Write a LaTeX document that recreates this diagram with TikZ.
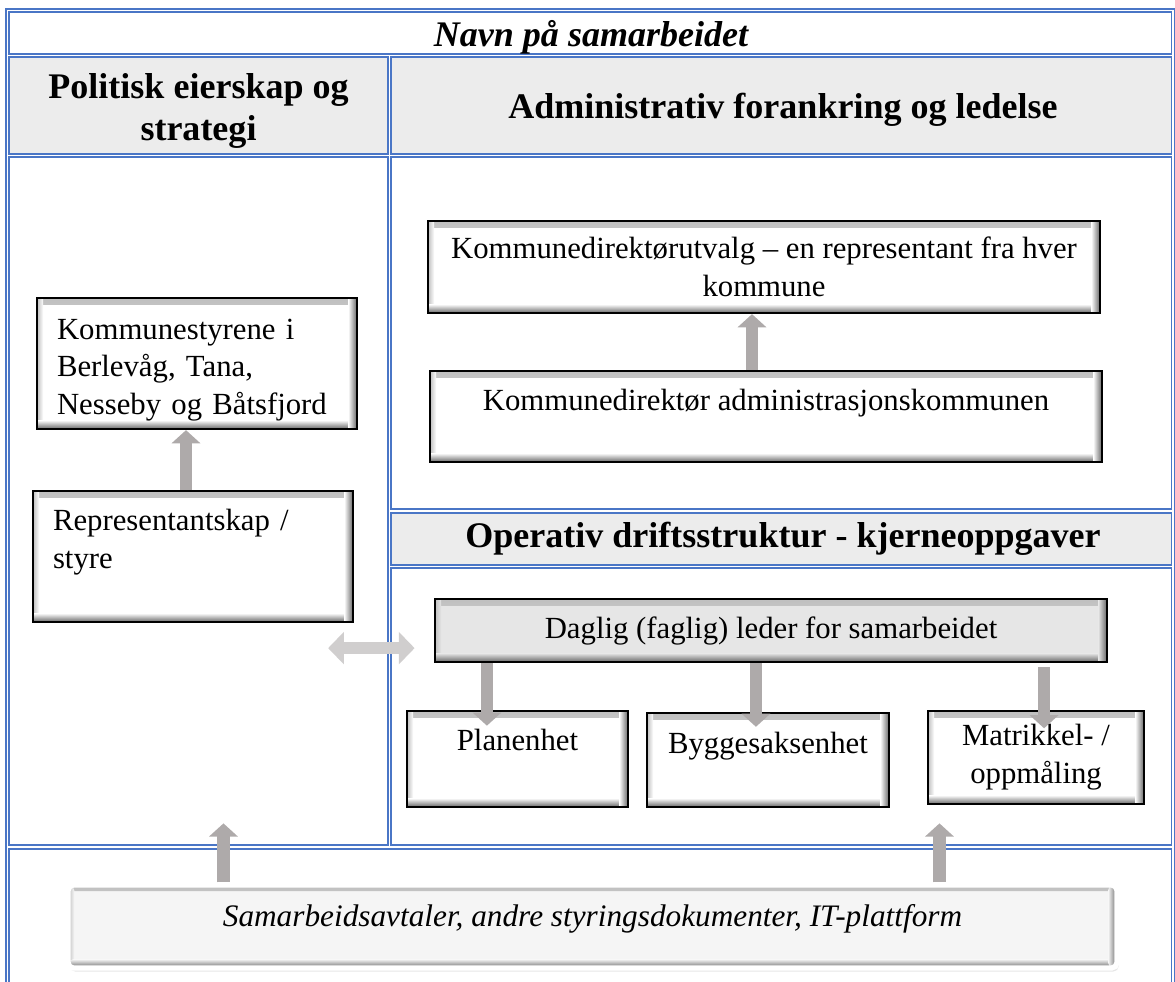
\documentclass[tikz,border=0pt]{standalone}
\usepackage{fontspec}
\setmainfont{Liberation Serif}
\usetikzlibrary{arrows.meta,calc,shadows}

\definecolor{cellblue}{HTML}{4A76C6}
\definecolor{hdrgray}{HTML}{ECECEC}
\definecolor{boxgray}{HTML}{E6E6E6}
\definecolor{arrowgray}{HTML}{AEAAAA}
\definecolor{lightarrow}{HTML}{D0CECE}

\tikzset{
  cell/.style={draw=cellblue, line width=0.8pt},
  title/.style={font=\fontsize{20.5}{24}\selectfont\bfseries\itshape},
  heading/.style={font=\fontsize{20.5}{24}\selectfont\bfseries, align=center},
  bevel/.style={path picture={
    \shade[top color=black!25, bottom color=#1]
      (path picture bounding box.north west) rectangle ([yshift=-3.5pt]path picture bounding box.north east);
    \shade[left color=black!25, right color=#1]
      (path picture bounding box.north west) rectangle ([xshift=3.5pt]path picture bounding box.south west);
    \shade[top color=#1, bottom color=black!60]
      ([yshift=5pt]path picture bounding box.south west) rectangle (path picture bounding box.south east);
    \shade[left color=#1, right color=black!60]
      ([xshift=-5pt]path picture bounding box.north east) rectangle (path picture bounding box.south east);
  }},
  orgbox/.style={draw=black, line width=1.3pt, fill=white, bevel=white,
    font=\fontsize{17.5}{21.5}\selectfont},
  lift/.style={text depth=#1},
  blockarrow/.style={arrowgray, line width=7pt, -{Triangle[width=16pt,length=7.5pt]}},
  dblarrow/.style={lightarrow, line width=6.5pt,
    {Triangle[width=18pt,length=9pt]}-{Triangle[width=18pt,length=9pt]}}
}

\begin{document}
\begin{tikzpicture}[x=0.02cm, y=-0.02cm]
	\useasboundingbox (0,0) rectangle (1175,982);
	\clip (0,0) rectangle (1175,982);
	
	% table
	\draw[cell] (6,9) rectangle (1174.5,1000);
	\draw[cell] (9,12) rectangle (1171.5,54);
	\draw[cell, fill=hdrgray] (9,57) rectangle (388,154);
	\draw[cell, fill=hdrgray] (391,57) rectangle (1171.5,154);
	\draw[cell] (9,157) rectangle (388,845);
	\draw[cell] (391,157) rectangle (1171.5,509);
	\draw[cell, fill=hdrgray] (391,513) rectangle (1171.5,565);
	\draw[cell] (391,568) rectangle (1171.5,845);
	\draw[cell] (9,849) rectangle (1171.5,1000);
	
	\node[title] (navn) at (591,37) {Navn på samarbeidet};
	\node[heading] (politisk) at (198.5,111) {Politisk eierskap og\\strategi};
	\node[heading] (admin) at (783,110) {Administrativ forankring og ledelse};
	\node[heading] (operativ) at (783,539) {Operativ driftsstruktur - kjerneoppgaver};
	
	% politisk side
	\node[orgbox, minimum width=6.4cm, minimum height=2.62cm, text width=5.6cm, align=left, lift=1.38cm] (komm) at (197,363.5) {Kommunestyrene i\\Berlevåg, Tana,\\Nesseby og Båtsfjord};
	\node[orgbox, minimum width=6.4cm, minimum height=2.62cm, text width=5.6cm, align=left, lift=1.45cm] (repr) at (193,556.5) {Representantskap /\\styre};
	\coordinate (r1) at ($(repr.north)+(-7,0)$);
	\draw[blockarrow] (r1) -- (r1 |- komm.south);
	
	% administrativ side
	\node[orgbox, minimum width=13.44cm, minimum height=1.84cm, align=center] (kdu) at (764,267) {Kommunedirektørutvalg – en representant fra hver\\kommune};
	\node[orgbox, minimum width=13.44cm, minimum height=1.82cm, lift=0.66cm] (kda) at (766,416.5) {Kommunedirektør administrasjonskommunen};
	\coordinate (k1) at ($(kda.north)+(-14,0)$);
	\draw[blockarrow] (k1) -- (k1 |- kdu.south);
	
	% operativ
	\node[orgbox, fill=boxgray, bevel=boxgray, minimum width=13.44cm, minimum height=1.26cm] (dagl) at (771,630.5) {Daglig (faglig) leder for samarbeidet};
	\node[orgbox, minimum width=4.42cm, minimum height=1.92cm, lift=0.78cm] (plan) at (517.5,759) {Planenhet};
	\node[orgbox, minimum width=4.84cm, minimum height=1.88cm, lift=0.7cm] (bygg) at (768,760) {Byggesaksenhet};
	\node[orgbox, minimum width=4.32cm, minimum height=1.86cm, align=center] (matr) at (1036,757.5) {Matrikkel- /\\oppmåling};
	\coordinate (d1) at ($(dagl.south west)+(53,0)$);
	\coordinate (d2) at ($(dagl.south west)+(322,0)$);
	\coordinate (d3) at ($(dagl.south east)+(-64,4)$);
	\draw[blockarrow] (d1) -- ([yshift=-9pt]d1 |- plan.north);
	\draw[blockarrow] (d2) -- ([yshift=-8.5pt]d2 |- bygg.north);
	\draw[blockarrow] (d3) -- ([yshift=-10.5pt]d3 |- matr.north);
	\coordinate (lr) at ($(repr.south east)+(-26,25)$);
	\draw[dblarrow] (lr) -- ([xshift=-11pt]dagl.west |- lr);
	
	% styringsdokumenter
	\node[orgbox, draw=white, line width=3pt, rounded corners=3pt, fill=black!4, bevel=black!4,
	  drop shadow={shadow xshift=1pt, shadow yshift=-2pt, opacity=0.2},
	  minimum width=20.98cm, minimum height=1.66cm, lift=0.46cm,
	  font=\fontsize{17.8}{20}\selectfont\itshape] (samb) at (592.5,926.5) {Samarbeidsavtaler, andre styringsdokumenter, IT-plattform};
	\draw[blockarrow] ($(samb.north west)+(158,0)$) -- ++(0,-59);
	\draw[blockarrow] ($(samb.north west)+(874,0)$) -- ++(0,-59);
\end{tikzpicture}
\end{document}
